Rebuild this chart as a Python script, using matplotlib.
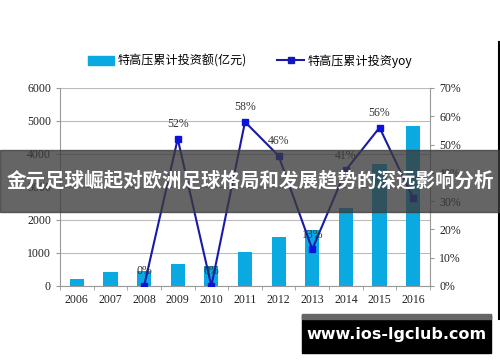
import matplotlib.pyplot as plt
import numpy as np
from matplotlib.patches import Rectangle
from matplotlib.lines import Line2D

plt.rcParams['font.family'] = ['Liberation Serif', 'Noto Sans CJK SC']

# 数据
years = ['2006', '2007', '2008', '2009', '2010', '2011', '2012', '2013', '2014', '2015', '2016']
invest = [210, 430, 450, 660, 600, 1020, 1490, 1700, 2370, 3700, 4850]
yoy_years = ['2008', '2009', '2010', '2011', '2012', '2013', '2014', '2015', '2016']
yoy = [0, 52, 0, 58, 46, 13, 41, 56, 31]
yoy_labels = ['0%', '52%', '0%', '58%', '46%', '13%', '41%', '56%', '']
left_ticks = [0, 1000, 2000, 3000, 4000, 5000, 6000]
right_ticks = [0, 10, 20, 30, 40, 50, 60, 70]

fig = plt.figure(figsize=(5, 3.62), dpi=100)
ax = fig.add_axes([0.12, 0.21, 0.74, 0.547])
x = np.arange(len(years))

ax.bar(x, invest, width=0.42, color='#0aa9e2', zorder=2)
ax.set_xlim(-0.5, len(years) - 0.5)
ax.set_ylim(0, 6000)
ax.set_yticks(left_ticks)
ax.set_yticklabels([str(t) for t in left_ticks], fontsize=8.5, color='#222222')
ax.set_xticks(x)
ax.set_xticklabels(years, fontsize=8.5, color='#222222')
ax.set_xticks(np.arange(-0.5, len(years)), minor=True)
ax.tick_params(axis='x', which='major', length=0, pad=6)
ax.tick_params(axis='x', which='minor', length=3, color='#999999')
ax.tick_params(axis='y', length=3, color='#999999')
ax.grid(axis='y', color='#bbbbbb', linewidth=0.8, zorder=0)
for s in ['top', 'right']:
    ax.spines[s].set_visible(False)
ax.spines['left'].set_color('#999999')
ax.spines['bottom'].set_color('#999999')

ax2 = ax.twinx()
xi = [years.index(y) for y in yoy_years]
ax2.plot(xi, yoy, color='#1a1aa8', linewidth=1.5, marker='s', markersize=5,
         markerfacecolor='#0a14d8', markeredgecolor='#0a14d8', zorder=3)
ax2.set_ylim(0, 70)
ax2.set_yticks(right_ticks)
ax2.set_yticklabels([f'{t}%' for t in right_ticks], fontsize=8.5, color='#222222')
ax2.tick_params(axis='y', length=3, color='#999999')
for s in ['top', 'left', 'bottom']:
    ax2.spines[s].set_visible(False)
ax2.spines['right'].set_color('#999999')
for xx, yy, lab in zip(xi, yoy, yoy_labels):
    ax2.text(xx, yy + 3, lab, ha='center', va='bottom', fontsize=8.5, color='#333333')

# 图例
handles = [Rectangle((0, 0), 1, 1, color='#0aa9e2'),
           Line2D([], [], color='#1a1aa8', marker='s', markersize=4,
                  markerfacecolor='#0a14d8', linewidth=1.5)]
fig.legend(handles, ['特高压累计投资额(亿元)', '特高压累计投资yoy'],
           loc='center', bbox_to_anchor=(0.5, 0.832), ncol=2, frameon=False,
           prop={'family': ['Noto Sans CJK SC'], 'size': 8.7}, handlelength=2.2,
           handletextpad=0.3, columnspacing=2.5)

# 标题横幅
fig.patches.append(Rectangle((0, 0.415), 1, 0.172, transform=fig.transFigure,
                             color='#3a3a3a', alpha=0.78, zorder=5))
fig.text(0.5, 0.5, '金元足球崛起对欧洲足球格局和发展趋势的深远影响分析', ha='center', va='center',
         color='white', fontsize=14, fontweight='bold', family=['Noto Sans CJK SC'], zorder=6)

# 水印
fig.patches.append(Rectangle((0.604, 0.025), 0.378, 0.105, transform=fig.transFigure,
                             color='black', zorder=5))
fig.patches.append(Rectangle((0.604, 0.12), 0.378, 0.012, transform=fig.transFigure,
                             color='#666666', zorder=5))
fig.text(0.793, 0.077, 'www.ios-lgclub.com', ha='center', va='center', color='white',
         fontsize=11.5, fontweight='bold', family=['DejaVu Sans'], zorder=6)
fig.add_artist(Line2D([0.997, 0.997], [0.12, 0.885], transform=fig.transFigure,
                      color='black', linewidth=1.5))

fig.savefig('out.png', dpi=100)
